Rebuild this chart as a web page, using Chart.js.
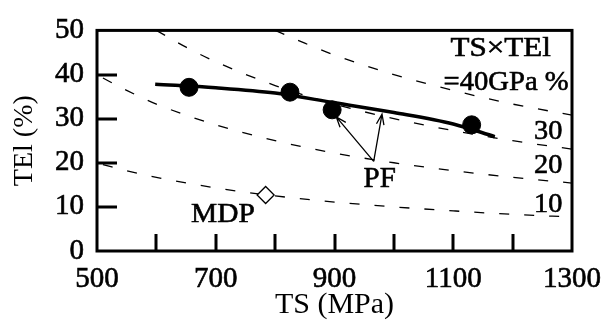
<!DOCTYPE html>
<html>
<head>
<meta charset="utf-8">
<script src="https://cdn.jsdelivr.net/npm/chart.js@4.4.1/dist/chart.umd.min.js"></script>
<style>
  html, body { margin: 0; padding: 0; background: #fff; }
</style>
</head>
<body>
<canvas id="myChart" width="612" height="325"></canvas>
<script>
"use strict";

//--------------------DATA

// PF steels (filled circles)
let pfTS = [655, 825, 896, 1131];
let pfTEl = [37.1, 36.0, 32.0, 28.6];

// MDP steel (open diamond)
let mdpTS = [784];
let mdpTEl = [12.7];

// trend line through the PF points
let fitTS = [598, 700, 800, 900, 1000, 1100, 1170];
let fitTEl = [37.8, 37.0, 35.8, 33.6, 31.4, 28.8, 25.9];

// dashed TS x TEl = const lines (10, 20, 30, 40 GPa%)
let iso10TS = [510, 550, 600, 700, 800, 900, 1000, 1100, 1200, 1300];
let iso10TEl = [19.6, 18.2, 16.7, 14.3, 12.5, 11.1, 10.0, 9.1, 8.3, 7.7];
let iso20TS = [510, 550, 600, 700, 800, 900, 1000, 1100, 1200, 1300];
let iso20TEl = [39.2, 36.4, 33.3, 28.6, 25.0, 22.2, 20.0, 18.2, 16.7, 15.4];
let iso30TS = [600, 650, 700, 800, 900, 1000, 1100, 1200, 1300];
let iso30TEl = [50.0, 46.2, 42.9, 37.5, 33.3, 30.0, 27.3, 25.0, 23.1];
let iso40TS = [800, 850, 900, 1000, 1100, 1200, 1300];
let iso40TEl = [50.0, 47.1, 44.4, 40.0, 36.4, 33.3, 30.8];

// ticks
let xTickLabels = [500, 700, 900, 1100, 1300];
let xInnerTicks = [600, 700, 800, 900, 1000, 1100, 1200];
let yTickLabels = [0, 10, 20, 30, 40, 50];
let yInnerTicks = [10, 20, 30, 40];

//--------------------HELPERS

const SERIF = '"Liberation Serif", "DejaVu Serif", serif';

function toPoints(xs, ys) {
  let pts = [];
  for (let i = 0; i < xs.length; i++) {
    pts.push({ x: xs[i], y: ys[i] });
  }
  return pts;
}

function isoLine(xs, ys) {
  return {
    data: toPoints(xs, ys),
    showLine: true,
    borderColor: "#000",
    borderWidth: 1.3,
    borderDash: [10, 15],
    pointRadius: 0,
    cubicInterpolationMode: "monotone",
  };
}

// text with optional horizontal stretch, centred on a data point
function putText(ctx, chart, text, tx, ty, size, stretch) {
  let x = chart.scales.x.getPixelForValue(tx);
  let y = chart.scales.y.getPixelForValue(ty);
  ctx.save();
  ctx.font = size + "px " + SERIF;
  ctx.fillStyle = "#000";
  ctx.strokeStyle = "#000";
  ctx.lineWidth = 0.6;
  ctx.textAlign = "center";
  ctx.textBaseline = "middle";
  ctx.translate(x, y);
  ctx.scale(stretch || 1, 1);
  ctx.fillText(text, 0, 0);
  ctx.strokeText(text, 0, 0);
  ctx.restore();
}

function arrow(ctx, chart, fx, fy, tx, ty) {
  let x0 = chart.scales.x.getPixelForValue(fx);
  let y0 = chart.scales.y.getPixelForValue(fy);
  let x1 = chart.scales.x.getPixelForValue(tx);
  let y1 = chart.scales.y.getPixelForValue(ty);
  let a = Math.atan2(y1 - y0, x1 - x0);
  let head = 11;
  ctx.beginPath();
  ctx.moveTo(x0, y0);
  ctx.lineTo(x1, y1);
  ctx.moveTo(x1 - head * Math.cos(a - 0.35), y1 - head * Math.sin(a - 0.35));
  ctx.lineTo(x1, y1);
  ctx.lineTo(x1 - head * Math.cos(a + 0.35), y1 - head * Math.sin(a + 0.35));
  ctx.stroke();
}

//--------------------PLUGIN

const decorations = {
  id: "decorations",
  beforeDraw(chart) {
    const ctx = chart.ctx;
    ctx.save();
    ctx.fillStyle = "#fff";
    ctx.fillRect(0, 0, chart.width, chart.height);
    ctx.restore();
  },
  afterDatasetsDraw(chart) {
    const ctx = chart.ctx;
    const area = chart.chartArea;
    const xs = chart.scales.x;
    const ys = chart.scales.y;
    ctx.save();
    ctx.strokeStyle = "#000";
    ctx.lineCap = "butt";

    // frame
    ctx.lineWidth = 3;
    ctx.strokeRect(area.left, area.top, area.right - area.left, area.bottom - area.top);

    // inner ticks
    ctx.beginPath();
    xInnerTicks.forEach((v) => {
      let px = Math.round(xs.getPixelForValue(v));
      ctx.moveTo(px, area.bottom);
      ctx.lineTo(px, area.bottom - 17);
    });
    yInnerTicks.forEach((v) => {
      let py = Math.round(ys.getPixelForValue(v));
      ctx.moveTo(area.left, py);
      ctx.lineTo(area.left + 20, py);
    });
    ctx.stroke();

    // PF arrows
    ctx.lineWidth = 1.3;
    arrow(ctx, chart, 966, 20.3, 903, 30.4);
    arrow(ctx, chart, 966, 20.3, 980, 31.0);

    // labels
    putText(ctx, chart, "TS\u00d7TEl", 1180, 45.7, 27, 1.15);
    putText(ctx, chart, "=40GPa %", 1189, 38.2, 27, 1.06);
    putText(ctx, chart, "30", 1260, 27.0, 27, 1.05);
    putText(ctx, chart, "20", 1260, 19.3, 27, 1.05);
    putText(ctx, chart, "10", 1260, 10.4, 27, 1.05);
    putText(ctx, chart, "PF", 976, 16.3, 29);
    putText(ctx, chart, "MDP", 712, 8.2, 28, 1.05);
    ctx.restore();
  },
};

//--------------------CHART

const tickFont = { family: SERIF, size: 29 };

const ctx = document.getElementById("myChart").getContext("2d");
const myChart = new Chart(ctx, {
  type: "scatter",
  data: {
    datasets: [
      {
        label: "PF",
        data: toPoints(pfTS, pfTEl),
        pointRadius: 9,
        pointBackgroundColor: "#000",
        pointBorderColor: "#000",
        showLine: false,
      },
      {
        label: "MDP",
        data: toPoints(mdpTS, mdpTEl),
        pointStyle: "rectRot",
        pointRadius: 8.5,
        pointBackgroundColor: "#fff",
        pointBorderColor: "#000",
        pointBorderWidth: 1.3,
        showLine: false,
      },
      {
        label: "fit",
        data: toPoints(fitTS, fitTEl),
        showLine: true,
        borderColor: "#000",
        borderWidth: 3.5,
        pointRadius: 0,
        cubicInterpolationMode: "monotone",
      },
      isoLine(iso10TS, iso10TEl),
      isoLine(iso20TS, iso20TEl),
      isoLine(iso30TS, iso30TEl),
      isoLine(iso40TS, iso40TEl),
    ],
  },
  options: {
    responsive: false,
    animation: false,
    devicePixelRatio: 1,
    layout: { padding: { top: 18, right: 33, left: 0, bottom: 0 } },
    plugins: {
      legend: { display: false },
      tooltip: { enabled: false },
    },
    scales: {
      x: {
        type: "linear",
        min: 500,
        max: 1300,
        afterBuildTicks: (axis) => {
          axis.ticks = xTickLabels.map((v) => ({ value: v }));
        },
        afterFit: (axis) => {
          axis.height = 74;
        },
        grid: { display: false, drawTicks: false },
        border: { display: false },
        ticks: {
          color: "#000",
          font: tickFont,
          padding: 11,
          maxRotation: 0,
          autoSkip: false,
          textStrokeColor: "#000",
          textStrokeWidth: 0.6,
          callback: (value) => String(value),
        },
        title: {
          display: true,
          text: "TS (MPa)",
          color: "#000",
          font: { family: SERIF, size: 30 },
          padding: { top: 0, bottom: 2 },
        },
      },
      y: {
        type: "linear",
        min: 0,
        max: 50,
        afterBuildTicks: (axis) => {
          axis.ticks = yTickLabels.map((v) => ({ value: v }));
        },
        afterFit: (axis) => {
          axis.width = 97;
        },
        grid: { display: false, drawTicks: false },
        border: { display: false },
        ticks: {
          color: "#000",
          font: tickFont,
          padding: 13,
          textStrokeColor: "#000",
          textStrokeWidth: 0.6,
          callback: (value) => String(value),
        },
        title: {
          display: true,
          text: "TEl (%)",
          color: "#000",
          font: { family: SERIF, size: 28 },
          padding: { top: 8, bottom: 0 },
        },
      },
    },
  },
  plugins: [decorations],
});
</script>
</body>
</html>
